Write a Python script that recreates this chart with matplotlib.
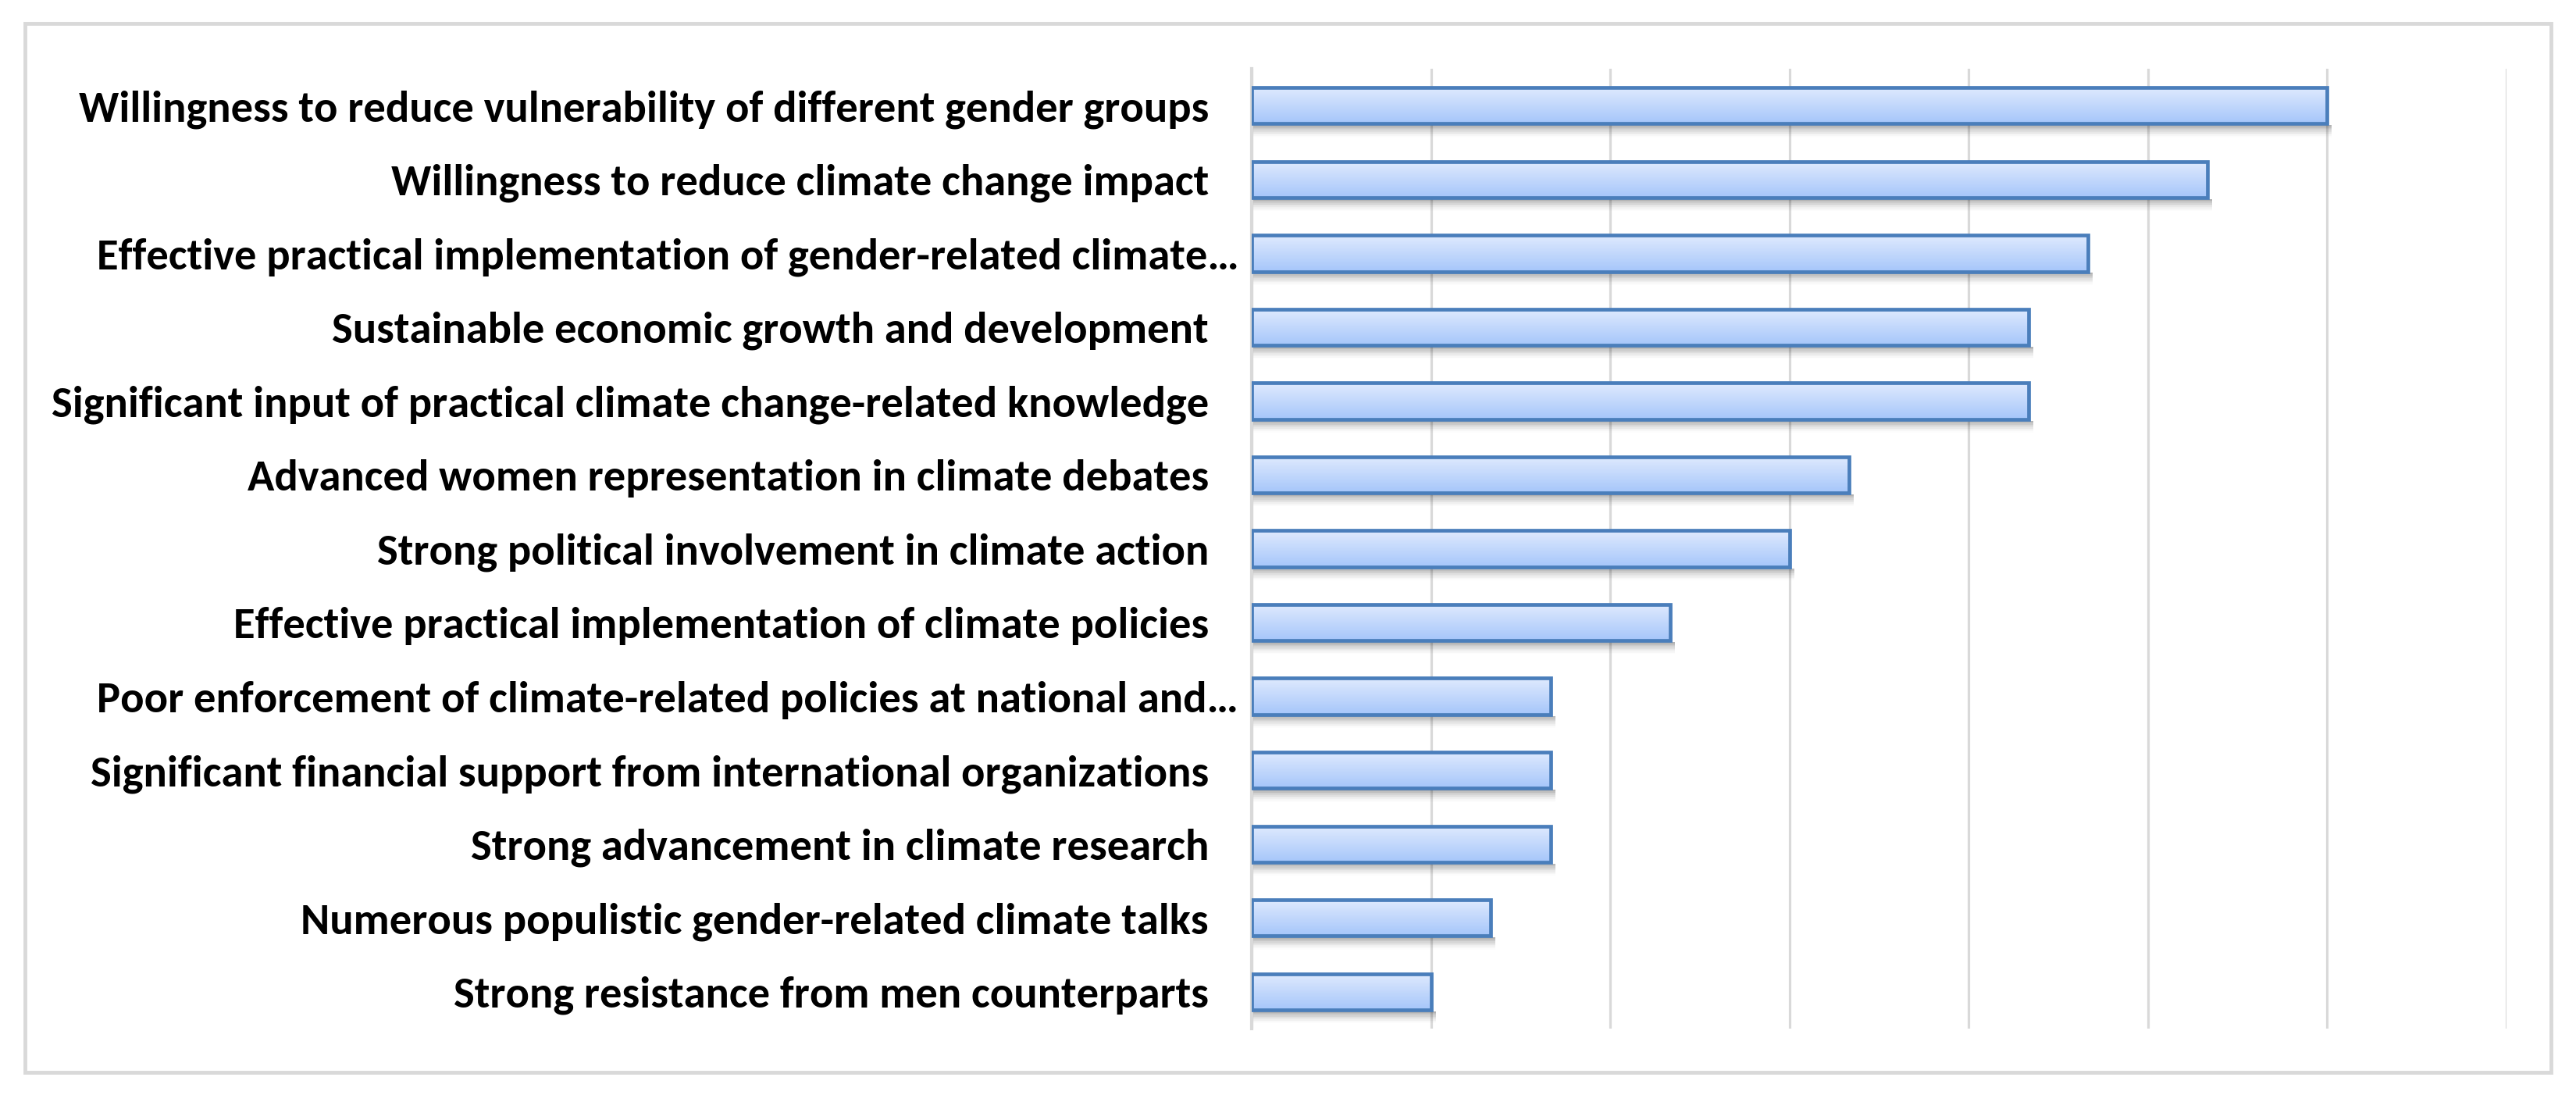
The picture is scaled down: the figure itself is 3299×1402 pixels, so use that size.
import numpy as np
import matplotlib
matplotlib.use("Agg")
import matplotlib.pyplot as plt
from matplotlib.colors import LinearSegmentedColormap
from matplotlib.patches import Rectangle

labels = [
    "Willingness to reduce vulnerability of different gender groups",
    "Willingness to reduce climate change impact",
    "Effective practical implementation of gender-related climate…",
    "Sustainable economic growth and development",
    "Significant input of practical climate change-related knowledge",
    "Advanced women representation in climate debates",
    "Strong political involvement in climate action",
    "Effective practical implementation of climate policies",
    "Poor enforcement of climate-related policies at national and…",
    "Significant financial support from international organizations",
    "Strong advancement in climate research",
    "Numerous populistic gender-related climate talks",
    "Strong resistance from men counterparts",
]
values = [18, 16, 14, 13, 13, 10, 9, 7, 5, 5, 5, 4, 3]
x_max = 21
x_step = 3

plt.rcParams['font.family'] = ['Carlito', 'Asap', 'DejaVu Sans']

fig = plt.figure(figsize=(32.99, 14.02), dpi=100)
ax = fig.add_axes([0.4859, 0.0606, 0.9730 - 0.4859, 0.9372 - 0.0606])

# outer frame
fig.patches.append(Rectangle((32 / 3299, 1 - 1373 / 1402), (3267 - 32) / 3299, (1373 - 30) / 1402,
                             transform=fig.transFigure, fill=False,
                             edgecolor="#D9D9D9", linewidth=3.5))

grad = LinearSegmentedColormap.from_list("barfill", ["#DFEAFE", "#A6C6FA"])
g = np.linspace(0, 1, 64).reshape(-1, 1)
h = 0.49
ys = np.arange(len(values))

for y, v in zip(ys, values):
    # soft shadow under each bar
    n = 9
    for k in range(n):
        ax.add_patch(Rectangle((0.02, y + h / 2 + 0.02 + k * 0.018), v + 0.06, 0.018,
                               facecolor="black", alpha=0.30 * (1 - k / n) ** 1.5,
                               linewidth=0, zorder=2))
    ax.imshow(g, extent=[0, v, y + h / 2, y - h / 2], aspect='auto', cmap=grad, zorder=3)

ax.barh(ys, values, height=h, fill=False, edgecolor="#4A7EBB", linewidth=3.4, zorder=4)

ax.set_xlim(0, x_max)
ax.set_ylim(len(values) - 0.5, -0.5)
ax.set_xticks(np.arange(0, x_max + 1, x_step))
ax.xaxis.grid(True, color="#D9D9D9", linewidth=2.3, zorder=0)
ax.set_axisbelow(True)
ax.tick_params(axis='x', length=0, labelbottom=False)
ax.tick_params(axis='y', length=0, pad=12)
ax.set_yticks(ys)

# size the label font so the longest label spans about 1448 px like the original
probe = fig.text(0, 0, labels[0], fontsize=38, fontweight='bold')
fig.canvas.draw()
w = probe.get_window_extent().width
probe.remove()
fs = 38 * 1448 / w

# Excel-style labels: full labels keep trailing blanks, truncated ones end at the ellipsis
shown = [lab if lab.endswith("…") else lab + "   " for lab in labels]
ax.set_yticklabels(shown, fontsize=fs, fontweight='bold')
for s in ["top", "right", "bottom"]:
    ax.spines[s].set_visible(False)
ax.spines["left"].set_color("#D9D9D9")
ax.spines["left"].set_linewidth(3)

fig.savefig("out.png", dpi=100)
